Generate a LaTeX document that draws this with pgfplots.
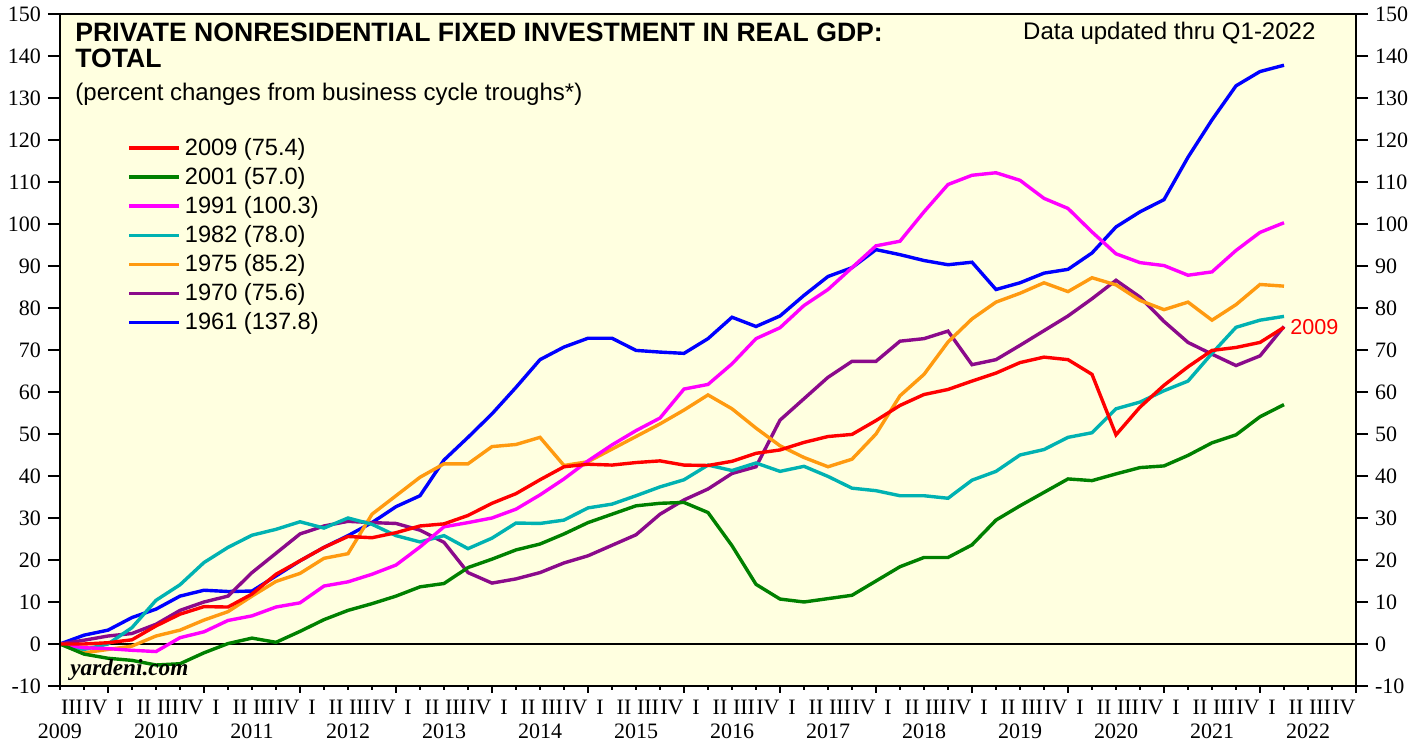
\documentclass[border=0pt]{standalone}
\usepackage{pgfplots}
\usepackage{pgfplotstable}
\pgfplotsset{compat=1.18}
\usepackage{fontspec}
\setmainfont{Liberation Sans}
\newfontfamily\tnr{Liberation Serif}

\definecolor{bgyel}{HTML}{FFFFE0}
\definecolor{c2009}{HTML}{FF0000}
\definecolor{c2001}{HTML}{008000}
\definecolor{c1991}{HTML}{FF00FF}
\definecolor{c1982}{HTML}{00B2B2}
\definecolor{c1975}{HTML}{FF9A10}
\definecolor{c1970}{HTML}{8B0A8B}
\definecolor{c1961}{HTML}{0000FF}

% quarters after each business cycle trough, percent change
\pgfplotstableread{
q r2009 r2001 r1991 r1982 r1975 r1970 r1961
0 0.0 0.0 0.0 0.0 0.0 0.0 0.0
1 0.0 -2.4 -0.9 -1.3 -2.1 0.9 2.1
2 0.3 -3.4 -1.1 0.0 -1.3 1.9 3.3
3 1.0 -3.9 -1.5 3.9 -0.5 2.5 6.3
4 4.3 -5.0 -1.8 10.4 1.9 4.7 8.3
5 7.1 -4.7 1.5 14.1 3.3 8.0 11.4
6 8.9 -2.1 2.9 19.4 5.7 10.0 12.8
7 8.8 0.1 5.6 23.0 7.7 11.4 12.5
8 11.9 1.4 6.7 25.9 11.4 17.0 12.6
9 16.6 0.4 8.8 27.3 14.9 21.6 16.2
10 19.8 3.0 9.8 29.1 16.8 26.2 19.8
11 23.0 5.8 13.8 27.6 20.4 28.1 23.0
12 25.6 8.0 14.8 30.0 21.5 29.2 25.8
13 25.3 9.6 16.6 28.5 30.9 28.9 28.9
14 26.5 11.4 18.8 25.8 35.3 28.7 32.7
15 28.1 13.6 23.1 24.3 39.7 27.1 35.3
16 28.6 14.4 27.9 25.8 42.9 24.2 43.8
17 30.6 18.2 28.9 22.7 42.9 17.0 49.2
18 33.5 20.2 30.0 25.2 47.0 14.5 54.8
19 35.8 22.4 32.1 28.8 47.5 15.5 61.1
20 39.1 23.8 35.5 28.7 49.2 17.0 67.7
21 42.2 26.2 39.3 29.5 42.5 19.3 70.7
22 42.8 28.9 43.6 32.4 43.4 21.0 72.8
23 42.6 30.9 47.4 33.3 46.4 23.5 72.8
24 43.2 32.9 50.8 35.3 49.4 26.0 69.9
25 43.6 33.5 53.8 37.4 52.4 30.9 69.5
26 42.6 33.7 60.7 39.1 55.7 34.3 69.2
27 42.5 31.3 61.8 42.6 59.3 36.9 72.7
28 43.5 23.4 66.7 41.3 56.0 40.6 77.8
29 45.4 14.2 72.7 43.1 51.4 42.2 75.6
30 46.2 10.7 75.3 41.1 47.2 53.3 78.1
31 48.0 10.0 80.6 42.3 44.4 58.4 83.0
32 49.4 10.8 84.4 39.9 42.2 63.5 87.5
33 49.9 11.6 89.6 37.1 44.0 67.3 89.6
34 53.2 15.0 94.8 36.5 50.0 67.3 93.9
35 56.8 18.4 95.9 35.3 59.1 72.1 92.7
36 59.4 20.6 102.9 35.3 64.2 72.7 91.3
37 60.6 20.6 109.4 34.7 71.9 74.5 90.3
38 62.6 23.6 111.6 39.0 77.4 66.5 90.9
39 64.5 29.5 112.2 41.1 81.4 67.7 84.4
40 67.0 32.9 110.4 45.0 83.5 71.1 86.0
41 68.3 36.1 106.1 46.3 86.0 74.6 88.3
42 67.7 39.3 103.7 49.2 83.9 78.1 89.2
43 64.2 38.9 98.1 50.3 87.2 82.2 93.1
44 49.8 40.5 92.9 56.0 85.5 86.6 99.3
45 56.4 42.0 90.8 57.6 81.8 82.6 102.9
46 61.6 42.4 90.1 60.3 79.6 76.8 105.8
47 66.0 44.9 87.8 62.6 81.4 71.8 115.9
48 69.9 47.9 88.6 69.2 77.1 69.0 124.8
49 70.6 49.8 93.7 75.4 80.8 66.3 132.9
50 71.8 54.1 98.0 77.1 85.6 68.6 136.3
51 75.4 57.0 100.3 78.0 85.2 75.6 137.8
}\cycles

\pgfplotsset{
  frame/.style={scale only axis, width=648pt, height=336pt,
    xmin=0, xmax=54, ymin=-10, ymax=150},
  yside/.style={frame, hide x axis, axis y line*=#1,
    ytick={-10,0,...,150}, tick align=outside, major tick length=6pt,
    tick style={black, line width=0.9pt},
    axis line style={line width=1.4pt},
    /pgf/number format/assume math mode=true,
    yticklabel style={font=\tnr\fontsize{11}{13}\selectfont}},
}

\begin{document}
\begin{tikzpicture}
\begin{axis}[
  frame, clip=false,
  axis background/.style={fill=bgyel},
  axis line style={line width=1.4pt},
  ytick=\empty,
  xtick={2,6,...,54}, xticklabels={},
  minor xtick={0,1,...,54},
  xtick pos=left, tick align=outside,
  major tick length=3.5pt, minor tick length=1.8pt,
  tick style={black, line width=0.9pt},
  x tick label style={font=\tnr\fontsize{11}{13}\selectfont},
  extra x ticks={0.5,1.5,...,53.5},
  extra x tick style={tick style={draw=none},
    xticklabel={\pgfmathtruncatemacro\qq{mod(floor(\tick)+2,4)+1}\ifcase\qq\or I\or II\or III\or IV\fi}},
  legend style={at={(rel axis cs:0.047,0.828)}, anchor=north west,
    draw=none, fill=none, font=\fontsize{11.8}{13}\selectfont,
    row sep=0.5pt},
  legend cell align=left, reverse legend,
  legend image code/.code={\draw[#1, line width=1.8pt] (0pt,0pt) -- (25pt,0pt);},
]
\coordinate (sw) at (rel axis cs:0,0);
\coordinate (ne) at (rel axis cs:1,1);
\addplot[black, line width=0.6pt, forget plot] coordinates {(0,0) (54,0)};
\addplot[c1961, line width=1.7pt] table[x=q, y=r1961] {\cycles};
\addlegendentry{1961 (137.8)}
\addplot[c1970, line width=1.7pt] table[x=q, y=r1970] {\cycles};
\addlegendentry{1970 (75.6)}
\addplot[c1975, line width=1.7pt] table[x=q, y=r1975] {\cycles};
\addlegendentry{1975 (85.2)}
\addplot[c1982, line width=1.7pt] table[x=q, y=r1982] {\cycles};
\addlegendentry{1982 (78.0)}
\addplot[c1991, line width=1.7pt] table[x=q, y=r1991] {\cycles};
\addlegendentry{1991 (100.3)}
\addplot[c2001, line width=1.7pt] table[x=q, y=r2001] {\cycles};
\addlegendentry{2001 (57.0)}
\addplot[c2009, line width=1.7pt] table[x=q, y=r2009] {\cycles};
\addlegendentry{2009 (75.4)}

\node[anchor=north west, align=left, inner sep=0pt,
  font=\bfseries\fontsize{13.3}{13}\selectfont]
  at (rel axis cs:0.0116,0.988) {PRIVATE NONRESIDENTIAL FIXED INVESTMENT IN REAL GDP:\\TOTAL};
\node[anchor=north west, inner sep=0pt, font=\fontsize{12}{14}\selectfont]
  at (rel axis cs:0.0116,0.897) {(percent changes from business cycle troughs*)};
\node[anchor=north east, inner sep=0pt, font=\fontsize{12}{14}\selectfont]
  at (rel axis cs:0.969,0.988) {Data updated thru Q1-2022};
\node[anchor=base west, inner sep=0pt, font=\tnr\bfseries\itshape\fontsize{11.6}{13}\selectfont]
  at (rel axis cs:0.0077,0.015) {yardeni.com};
\node[anchor=west, inner sep=0pt, text=c2009, font=\fontsize{10.8}{12}\selectfont]
  at (axis cs:51,75.4) [xshift=3pt] {2009};
\pgfplotsinvokeforeach{0,...,13}{
  \node[anchor=north, inner sep=0pt, font=\tnr\fontsize{11}{13}\selectfont]
    at (axis cs:{#1*4},-10) [yshift=-18.5pt] {\pgfmathtruncatemacro\yy{2009+#1}\yy};
}
\end{axis}
\begin{axis}[yside=left]
\end{axis}
\begin{axis}[yside=right]
\end{axis}
\pgfresetboundingbox
\path ([shift={(-30pt,-28pt)}]sw) rectangle ([shift={(34pt,7pt)}]ne);
\end{tikzpicture}
\end{document}
